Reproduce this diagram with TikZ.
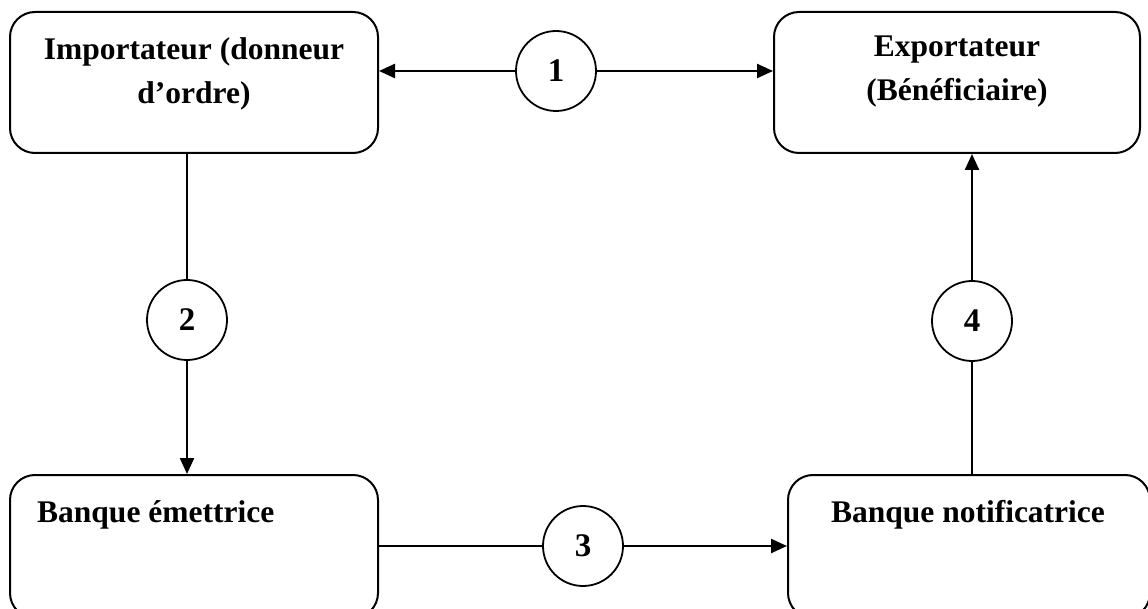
\documentclass[tikz,border=0pt]{standalone}
\usepackage{fontspec}
\setmainfont{Liberation Serif}
\usetikzlibrary{arrows.meta}

\tikzset{
  party/.style={draw, line width=2pt, rounded corners=25pt, inner sep=0pt},
  stepnum/.style={draw, circle, line width=1.8pt, minimum size=80pt, inner sep=0pt,
    font=\fontsize{33}{38}\selectfont\bfseries},
  boxtext/.style={font=\fontsize{31.5}{44}\selectfont\bfseries, inner sep=0pt},
  plainline/.style={line width=1.4pt},
  flow/.style={line width=2.3pt, -{Triangle[length=16pt,width=14pt]}}
}

\begin{document}
\begin{tikzpicture}[x=1pt,y=-1pt]
  \useasboundingbox (0,0) rectangle (1148,609);
  \clip (0,0) rectangle (1148,609);

  % the four parties
  \node[party, minimum width=368pt, minimum height=141pt] (imp) at (194,82.5) {};
  \node[party, minimum width=366pt, minimum height=141pt] (exp) at (957,82.5) {};
  \node[party, minimum width=368pt, minimum height=143pt] (bem) at (194,546.5) {};
  \node[party, minimum width=362pt, minimum height=143pt] (bno) at (969,546.5) {};

  % their names (base anchor sits on the last line)
  \node[boxtext, align=center, anchor=base] (timp) at (194,104) {Importateur (donneur\\d’ordre)};
  \node[boxtext, align=center, anchor=base] (texp) at (957,101) {Exportateur\\(Bénéficiaire)};
  \node[boxtext, anchor=base west] (tbem) at (37,522) {Banque émettrice};
  \node[boxtext, anchor=base] (tbno) at (968,522) {Banque notificatrice};

  % numbered steps
  \node[stepnum] (s1) at (556,71) {1};
  \node[stepnum] (s2) at (187,320) {2};
  \node[stepnum] (s3) at (583,546) {3};
  \node[stepnum] (s4) at (972,321) {4};

  % step 1: contract between importer and exporter
  \draw[flow] (s1.west) -- (imp.east |- s1.west);
  \draw[flow] (s1.east) -- (exp.west |- s1.east);

  % step 2: importer instructs the issuing bank
  \draw[plainline] (imp.south -| s2.north) -- (s2.north);
  \draw[flow] (s2.south) -- (s2.south |- bem.north);

  % step 3: issuing bank to notifying bank
  \draw[plainline] (bem.east |- s3.west) -- (s3.west);
  \draw[flow] (s3.east) -- (bno.west |- s3.east);

  % step 4: notifying bank to exporter
  \draw[plainline] (bno.north -| s4.south) -- (s4.south);
  \draw[flow] (s4.north) -- (s4.north |- exp.south);
\end{tikzpicture}
\end{document}
